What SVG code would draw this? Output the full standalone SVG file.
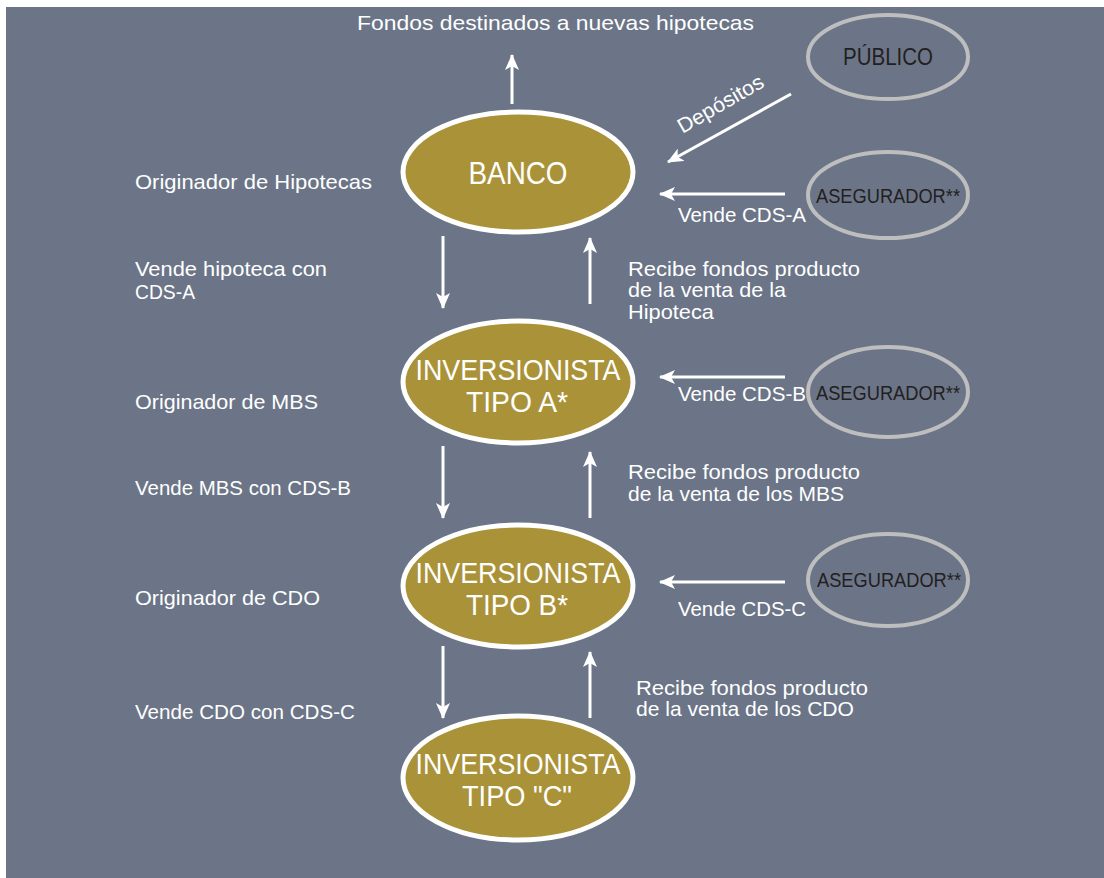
<svg xmlns="http://www.w3.org/2000/svg" width="1104" height="878" viewBox="0 0 1104 878">
<style>
.bg{fill:#6B7587}
.main{fill:#AA9239;stroke:#FFFFFF;stroke-width:5}
.side{fill:none;stroke:#BEBEBE;stroke-width:4}
.lbl{font-family:"Liberation Sans",Arial,sans-serif;font-size:21px;fill:#FFFFFF}
.big{font-family:"Liberation Sans",Arial,sans-serif;font-size:30px;fill:#FFFFFF;text-anchor:middle}
.dark{font-family:"Liberation Sans",Arial,sans-serif;font-size:20px;fill:#231F20;text-anchor:middle}
.conn{stroke:#FFFFFF;stroke-width:3;fill:none;marker-end:url(#ah)}
</style>
<defs>
<marker id="ah" viewBox="0 0 16 14" refX="15" refY="7" markerWidth="16" markerHeight="14" markerUnits="userSpaceOnUse" orient="auto">
<path d="M0,0 L16,7 L0,14 L4,7 Z" fill="#FFFFFF"/>
</marker>
</defs>
<rect class="bg" x="6" y="7" width="1098" height="871"/>

<g id="connectors">
<line class="conn" x1="512" y1="104" x2="512" y2="55"/>
<line class="conn" x1="791" y1="94" x2="668" y2="162"/>
<line class="conn" x1="785" y1="194" x2="660" y2="194"/>
<line class="conn" x1="785" y1="377" x2="660" y2="377"/>
<line class="conn" x1="785" y1="582" x2="660" y2="582"/>
<line class="conn" x1="443" y1="236" x2="443" y2="308"/>
<line class="conn" x1="590" y1="304" x2="590" y2="238"/>
<line class="conn" x1="443" y1="446" x2="443" y2="518"/>
<line class="conn" x1="590" y1="518" x2="590" y2="452"/>
<line class="conn" x1="443" y1="646" x2="443" y2="718"/>
<line class="conn" x1="590" y1="718" x2="590" y2="652"/>
</g>

<g id="labels">
<text class="lbl" x="357" y="30" textLength="397" lengthAdjust="spacingAndGlyphs">Fondos destinados a nuevas hipotecas</text>
<text class="lbl" transform="translate(724,110) rotate(-30)" text-anchor="middle" textLength="96" lengthAdjust="spacingAndGlyphs">Depósitos</text>
<text class="lbl" x="678" y="222" textLength="128" lengthAdjust="spacingAndGlyphs">Vende CDS-A</text>
<text class="lbl" x="678" y="401" textLength="128" lengthAdjust="spacingAndGlyphs">Vende CDS-B</text>
<text class="lbl" x="678" y="616" textLength="128" lengthAdjust="spacingAndGlyphs">Vende CDS-C</text>
<text class="lbl" x="135" y="189" textLength="237" lengthAdjust="spacingAndGlyphs">Originador de Hipotecas</text>
<text class="lbl" x="135" y="276" textLength="192" lengthAdjust="spacingAndGlyphs">Vende hipoteca con</text>
<text class="lbl" x="135" y="299" textLength="60" lengthAdjust="spacingAndGlyphs">CDS-A</text>
<text class="lbl" x="135" y="409" textLength="183" lengthAdjust="spacingAndGlyphs">Originador de MBS</text>
<text class="lbl" x="135" y="495" textLength="216" lengthAdjust="spacingAndGlyphs">Vende MBS con CDS-B</text>
<text class="lbl" x="135" y="605" textLength="185" lengthAdjust="spacingAndGlyphs">Originador de CDO</text>
<text class="lbl" x="135" y="719" textLength="220" lengthAdjust="spacingAndGlyphs">Vende CDO con CDS-C</text>
<text class="lbl" x="628" y="276" textLength="232" lengthAdjust="spacingAndGlyphs">Recibe fondos producto</text>
<text class="lbl" x="628" y="297" textLength="158" lengthAdjust="spacingAndGlyphs">de la venta de la</text>
<text class="lbl" x="628" y="319" textLength="86" lengthAdjust="spacingAndGlyphs">Hipoteca</text>
<text class="lbl" x="628" y="479" textLength="232" lengthAdjust="spacingAndGlyphs">Recibe fondos producto</text>
<text class="lbl" x="628" y="501" textLength="216" lengthAdjust="spacingAndGlyphs">de la venta de los MBS</text>
<text class="lbl" x="636" y="695" textLength="232" lengthAdjust="spacingAndGlyphs">Recibe fondos producto</text>
<text class="lbl" x="636" y="716" textLength="218" lengthAdjust="spacingAndGlyphs">de la venta de los CDO</text>
</g>

<g id="banco">
<ellipse class="main" cx="518" cy="172" rx="115" ry="60"/>
<text class="big" x="518" y="184" style="font-size:32px" textLength="99" lengthAdjust="spacingAndGlyphs">BANCO</text>
</g>
<g id="inversionista-a">
<ellipse class="main" cx="518" cy="382" rx="115" ry="61"/>
<text class="big" x="518" y="380" textLength="205" lengthAdjust="spacingAndGlyphs">INVERSIONISTA</text>
<text class="big" x="517" y="412" textLength="102" lengthAdjust="spacingAndGlyphs">TIPO A*</text>
</g>
<g id="inversionista-b">
<ellipse class="main" cx="518" cy="586" rx="115" ry="61"/>
<text class="big" x="518" y="583" textLength="205" lengthAdjust="spacingAndGlyphs">INVERSIONISTA</text>
<text class="big" x="517" y="615" textLength="102" lengthAdjust="spacingAndGlyphs">TIPO B*</text>
</g>
<g id="inversionista-c">
<ellipse class="main" cx="518" cy="778" rx="115" ry="62"/>
<text class="big" x="518" y="774" textLength="205" lengthAdjust="spacingAndGlyphs">INVERSIONISTA</text>
<text class="big" x="517" y="806" textLength="110" lengthAdjust="spacingAndGlyphs">TIPO "C"</text>
</g>
<g id="publico">
<ellipse class="side" cx="888" cy="57" rx="80" ry="42"/>
<text class="dark" x="888" y="65" style="font-size:23px" textLength="90" lengthAdjust="spacingAndGlyphs">PÚBLICO</text>
</g>
<g id="asegurador-a">
<ellipse class="side" cx="888" cy="195" rx="80" ry="43"/>
<text class="dark" x="888" y="203" textLength="144" lengthAdjust="spacingAndGlyphs">ASEGURADOR**</text>
</g>
<g id="asegurador-b">
<ellipse class="side" cx="888" cy="392" rx="80" ry="45"/>
<text class="dark" x="888" y="400" textLength="144" lengthAdjust="spacingAndGlyphs">ASEGURADOR**</text>
</g>
<g id="asegurador-c">
<ellipse class="side" cx="888" cy="580" rx="80" ry="46"/>
<text class="dark" x="889" y="587" textLength="144" lengthAdjust="spacingAndGlyphs">ASEGURADOR**</text>
</g>
</svg>
